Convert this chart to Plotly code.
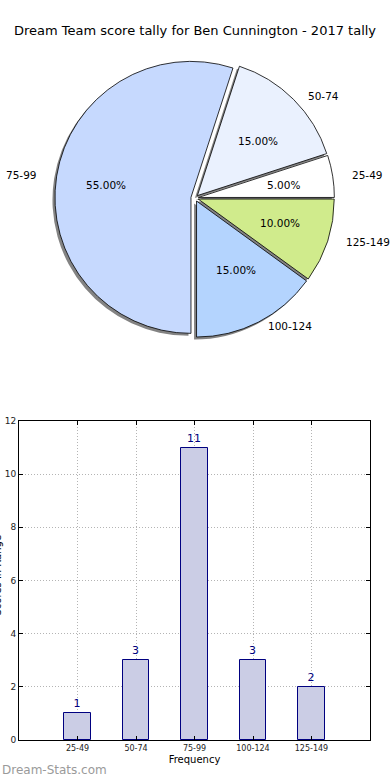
import math
import plotly.graph_objects as go

categories = ["25-49", "50-74", "75-99", "100-124", "125-149"]
counts = [1, 3, 11, 3, 2]
pie_colors = ["#ffffff", "#eaf1fe", "#c6d9fe", "#b4d4fe", "#d0eb8c"]
pulls = [0.025, 0.025, 0.03, 0.025, 0.025]
y_ticks = [0, 2, 4, 6, 8, 10, 12]

W, H = 390, 780
FONT = "DejaVu Sans"

# pie geometry (pixels)
cx, cy, R = 195, 198, 136
RX, RY = 143, 129          # text placement radii (reference pie is slightly wider than tall)
half = R * (1 + max(pulls))
total = sum(counts)
# first wedge starts at 3 o'clock and runs counter-clockwise (plotly's ccw rotation marks the first wedge's end)
rot = 90 - 360 * counts[0] / total

def dom(dx=0, dy=0):
    return dict(x=[(cx - half + dx) / W, (cx + half + dx) / W],
                y=[1 - (cy + half + dy) / H, 1 - (cy - half + dy) / H])

fig = go.Figure()
pie_common = dict(labels=categories, values=counts, sort=False, direction="counterclockwise",
                  rotation=rot, pull=pulls, showlegend=False)

# shadow
fig.add_trace(go.Pie(**pie_common, domain=dom(-2.5, 2.5),
                     marker=dict(colors=["rgba(90,90,90,0.75)"] * len(counts), line=dict(width=0)),
                     textinfo="none", hoverinfo="skip"))
# main pie
fig.add_trace(go.Pie(**pie_common, domain=dom(),
                     marker=dict(colors=pie_colors, line=dict(color="black", width=0.8)),
                     textinfo="none", hovertemplate="%{label}: %{value}<extra></extra>"))

# pie texts: labels outside and percentages at 0.6 r along each wedge's mid-angle
annotations = []
acc = 0
for lab, c, p in zip(categories, counts, pulls):
    mid = math.radians(360 * (acc + c / 2) / total)
    acc += c
    co, si = math.cos(mid), math.sin(mid)
    lx = cx + (1.08 + p) * RX * co
    ly = cy - (1.09 + p) * RY * si
    px_ = cx + (0.6 + p) * RX * co
    py_ = cy - (0.6 + p) * RY * si
    annotations.append(dict(text=lab, x=lx / W, y=1 - ly / H, xref="paper", yref="paper",
                            xanchor="left" if co > 0 else "right", yanchor="middle",
                            borderpad=0, showarrow=False,
                            font=dict(family=FONT, size=10.5, color="black")))
    annotations.append(dict(text=f"{100 * c / total:.2f}%", x=px_ / W, y=1 - py_ / H,
                            xref="paper", yref="paper", xanchor="center", yanchor="middle",
                            showarrow=False, font=dict(family=FONT, size=10.5, color="black")))

fig.add_trace(go.Bar(x=categories, y=counts, width=0.45,
                     marker=dict(color="#cbcde5", line=dict(color="#000080", width=1)),
                     text=[str(c) for c in counts], textposition="outside",
                     outsidetextfont=dict(family=FONT, size=11, color="#000080"),
                     cliponaxis=False, showlegend=False, xaxis="x", yaxis="y"))

annotations += [
    dict(text="Scores In Range", textangle=-90, x=4 / W, y=1 - 575 / H,
         xref="paper", yref="paper", xanchor="right", yanchor="middle",
         showarrow=False, font=dict(family=FONT, size=10, color="black")),
    dict(text="Dream-Stats.com", x=0, y=1 - 770 / H, xref="paper", yref="paper",
         xanchor="left", yanchor="middle", showarrow=False,
         font=dict(family=FONT, size=12, color="#9a9a9a")),
]

grid = dict(showgrid=True, gridcolor="#b4b4b4", griddash="1px,2px", gridwidth=1)

fig.update_layout(
    width=W, height=H, margin=dict(l=0, r=0, t=0, b=0, autoexpand=False),
    paper_bgcolor="white", plot_bgcolor="white",
    font=dict(family=FONT, color="black"),
    title=dict(text="Dream Team score tally for Ben Cunnington - 2017 tally",
               x=0.5, xanchor="center", xref="paper", y=1 - 30 / H, yanchor="middle",
               font=dict(family=FONT, size=13, color="black")),
    xaxis=dict(domain=[19 / W, 370 / W], type="category", range=[-1, 5],
               automargin=False,
               showline=True, linecolor="black", linewidth=1, mirror="ticks",
               ticks="inside", ticklen=4, tickcolor="black", **grid,
               tickfont=dict(family=FONT, size=8, color="#222"),
               title=dict(text="Frequency", font=dict(family=FONT, size=10), standoff=4),
               anchor="y", zeroline=False),
    yaxis=dict(domain=[1 - 740 / H, 1 - 421 / H], range=[0, 12], tickvals=y_ticks,
               automargin=False,
               showline=True, linecolor="black", linewidth=1, mirror="ticks",
               ticks="inside", ticklen=4, tickcolor="black", **grid,
               tickfont=dict(family=FONT, size=9, color="#222"),
               zeroline=False, anchor="x"),
    bargap=0,
    annotations=annotations,
)

fig.write_html("out.html", config={"displayModeBar": False},
               post_script="document.body.style.margin='0px';")
